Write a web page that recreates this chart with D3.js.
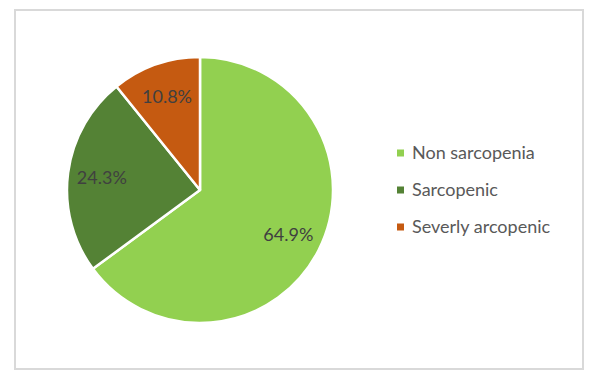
<!DOCTYPE html>
<html>
<head>
<meta charset="UTF-8">
<script src="https://d3js.org/d3.v7.min.js"></script>
<style>
    body { margin: 0; background: #fff; font-family: 'Lato', sans-serif; }
</style>
</head>
<body>
<svg id="chart" width="594" height="380"></svg>
<script>
    // chart data
    const categories = ["Non sarcopenia", "Sarcopenic", "Severly arcopenic"];
    const values = [64.9, 24.3, 10.8];
    const colors = ["#92d050", "#548235", "#c55a11"];

    const svg = d3.select("#chart");

    // outer frame
    svg.append("rect")
        .attr("x", 15).attr("y", 10)
        .attr("width", 568).attr("height", 359)
        .attr("fill", "#fff")
        .attr("stroke", "#d9d9d9")
        .attr("stroke-width", 2);

    const cx = 200, cy = 190, radius = 133;

    const pie = d3.pie().sort(null).value(d => d);
    const arcs = pie(values);

    const arc = d3.arc().innerRadius(0).outerRadius(radius);
    const labelArc = d3.arc().innerRadius(99).outerRadius(99);

    const g = svg.append("g").attr("transform", `translate(${cx},${cy})`);

    g.selectAll("path")
        .data(arcs)
        .enter()
        .append("path")
        .attr("d", arc)
        .attr("fill", (d, i) => colors[i])
        .attr("stroke", "#fff")
        .attr("stroke-width", 2.5)
        .attr("stroke-linejoin", "round");

    g.selectAll("text")
        .data(arcs)
        .enter()
        .append("text")
        .attr("transform", d => `translate(${labelArc.centroid(d)})`)
        .attr("text-anchor", "middle")
        .attr("dy", "0.35em")
        .attr("fill", "#404040")
        .style("font-size", "18px")
        .text(d => d.data.toFixed(1) + "%");

    // legend
    const legend = svg.append("g").attr("transform", "translate(397,153)");
    const item = legend.selectAll("g")
        .data(categories)
        .enter()
        .append("g")
        .attr("transform", (d, i) => `translate(0,${i * 37})`);

    item.append("rect")
        .attr("x", 0).attr("y", -3.5)
        .attr("width", 7).attr("height", 7)
        .attr("fill", (d, i) => colors[i]);

    item.append("text")
        .attr("x", 15)
        .attr("dy", "0.35em")
        .attr("fill", "#595959")
        .style("font-size", "18px")
        .text(d => d);
</script>
</body>
</html>
